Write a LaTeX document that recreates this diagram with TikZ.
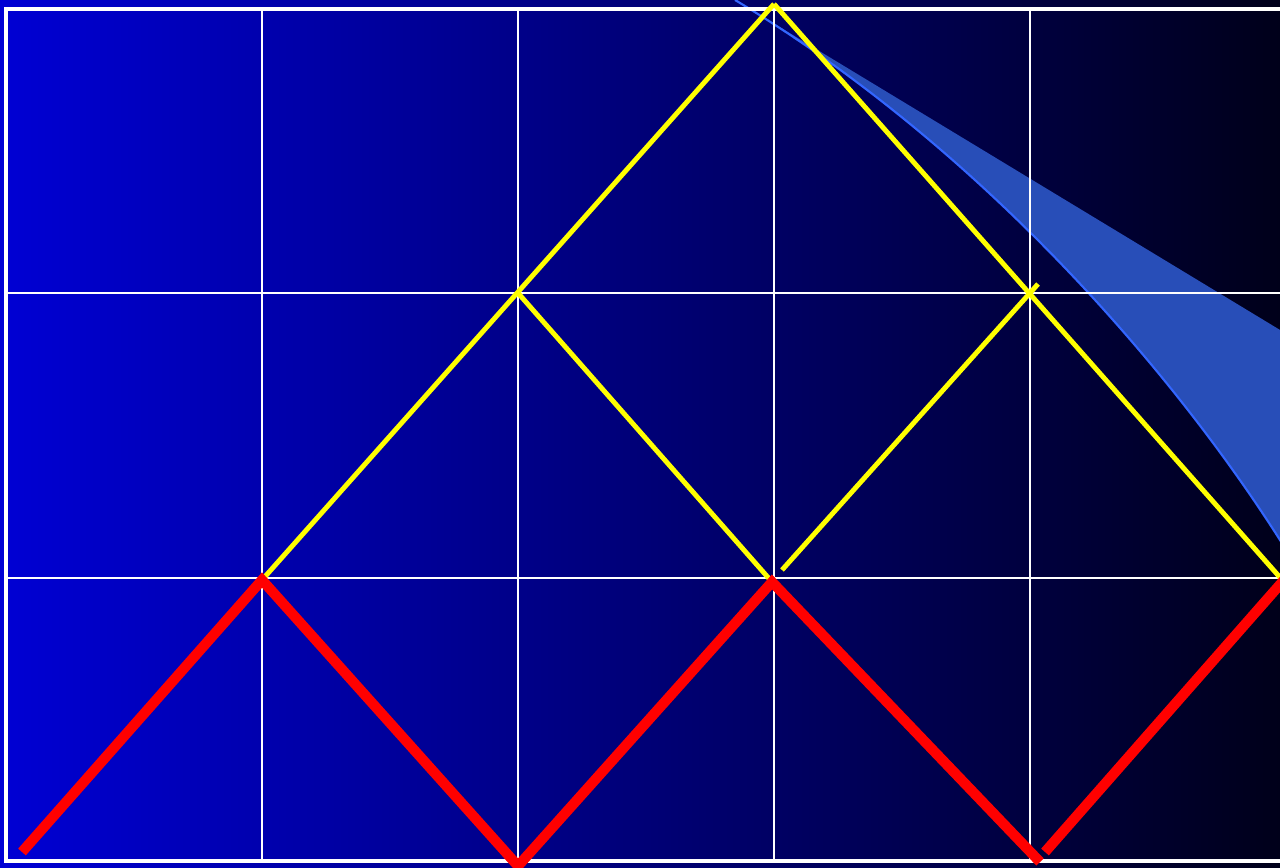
\documentclass[tikz,border=0pt]{standalone}
\usetikzlibrary{calc}
\definecolor{bgblue}{RGB}{0,0,212}
\definecolor{bgdark}{RGB}{0,0,26}
\definecolor{swoosh}{RGB}{40,78,184}
\definecolor{swooshedge}{RGB}{51,102,255}
\definecolor{pathyellow}{RGB}{255,255,0}
\definecolor{pathred}{RGB}{255,0,0}

\begin{document}
\begin{tikzpicture}[x=0.01cm, y=-0.01cm,
      grid/.style={white, line width=0.6pt},
      frame/.style={white, line width=1.4pt},
      upper/.style={pathyellow, line width=1.4pt},
      lower/.style={pathred, line width=2.9pt}]
    \useasboundingbox (0,0) rectangle (1280,868);
    \shade[left color=bgblue, right color=bgdark] (0,0) rectangle (1280,868);
    % band in the upper right
    \fill[swoosh] (735,0) -- (1285,333) -- (1285,548) .. controls (1180,380) and (985,150) .. (735,0);
    \draw[swooshedge, line width=0.6pt] (1285,548) .. controls (1180,380) and (985,150) .. (735,0);
    % grid
    \draw[frame] (1290,9) -- (6,9) -- (6,861) -- (1290,861);
    \foreach \x in {262,518,774,1030}
      \draw[grid] (\x,9) -- (\x,861);
    \foreach \y in {293,578}
      \draw[grid] (6,\y) -- (1290,\y);
    % lattice points
    \coordinate (T) at (774,4);
    \coordinate (M1) at (518,293);
    \coordinate (L1) at (262,580);
    \coordinate (L2) at (772,582);
    \coordinate (L3) at (1284,582);
    \coordinate (Ya) at (782,570);
    \coordinate (Yb) at (1038,284);
    \coordinate (B0) at (22,852);
    \coordinate (B1) at (518,866);
    \coordinate (B2) at (1040,862);
    \coordinate (B3) at (1045,852);
    \coordinate (R3) at (1284,580);
    % upper paths
    \draw[upper] (L1) -- (T);
    \draw[upper] (T) -- (L3);
    \draw[upper] (M1) -- (L2);
    \draw[upper] (Ya) -- (Yb);
    % lower paths
    \draw[lower] (B0) -- (L1) -- (B1) -- (L2) -- (B2);
    \draw[lower] (B3) -- (R3);
  \end{tikzpicture}
\end{document}
